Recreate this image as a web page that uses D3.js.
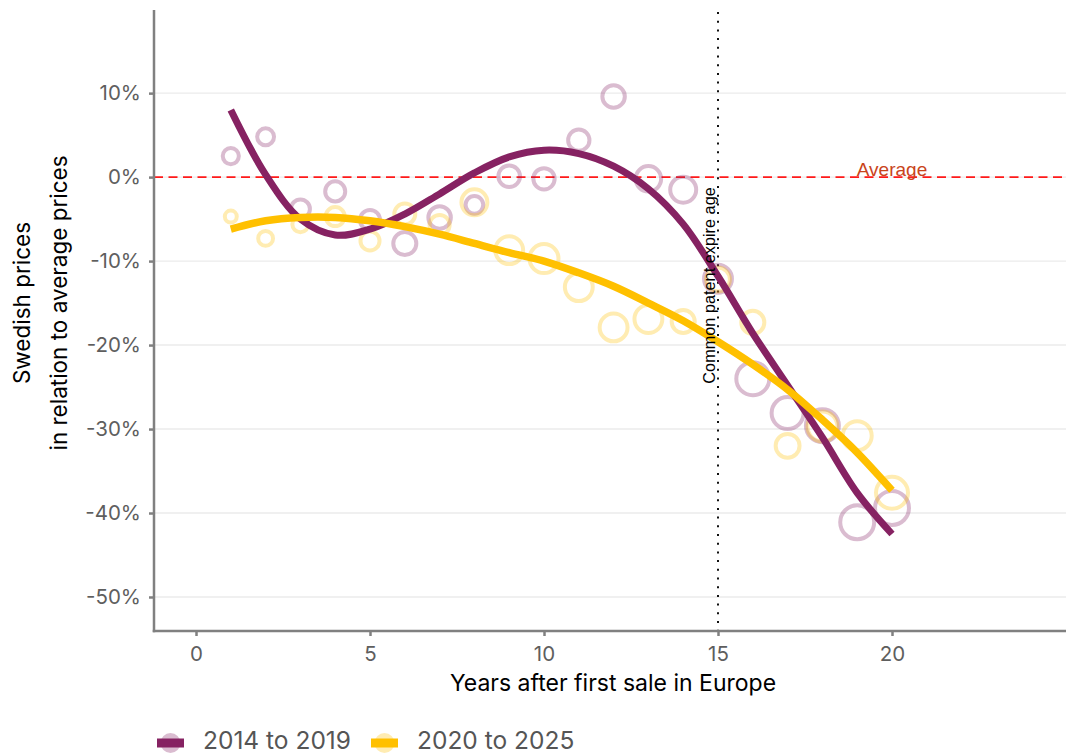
<!DOCTYPE html>
<html>
<head>
<meta charset="utf-8">
<script src="https://cdn.jsdelivr.net/npm/d3@7"></script>
<style>
  html, body { margin: 0; padding: 0; background: #fff; }
  svg { display: block; }
</style>
</head>
<body>
<svg id="chart" width="1066" height="755"></svg>
<script>
// Years after first sale in Europe
const years = [1, 2, 3, 4, 5, 6, 7, 8, 9, 10, 11, 12, 13, 14, 15, 16, 17, 18, 19, 20];

// Swedish price relative to the European average (%), per launch cohort
const obs2014 = [2.5, 4.8, -3.8, -1.7, -5.1, -7.9, -4.8, -3.3, 0.1, -0.2,
                 4.4, 9.6, -0.2, -1.5, -12.1, -24.0, -28.1, -29.6, -41.1, -39.4];
const obs2020 = [-4.7, -7.3, -5.6, -4.7, -7.6, -4.4, -5.7, -3.0, -8.7, -9.7,
                 -13.1, -17.9, -16.9, -17.2, -12.2, -17.3, -32.0, -29.7, -30.8, -37.6];

// Number of products behind each point (drives the ring size)
const n2014 = [20, 22, 28, 31, 31, 41, 39, 24, 36, 35, 35, 39, 50, 52, 60, 84, 79, 84, 89, 89];
const n2020 = [11, 17, 20, 28, 28, 34, 31, 52, 60, 65, 60, 60, 60, 41, 44, 41, 44, 69, 65, 79];

// Smoothed trend per cohort, sampled at each year
const trend2014 = [8.0, 0.3, -5.0, -6.9, -6.2, -4.4, -2.0, 0.5, 2.4, 3.2,
                   2.8, 1.3, -1.4, -5.6, -11.8, -18.6, -24.8, -31.0, -37.6, -42.5];
const trend2020 = [-6.2, -5.2, -4.8, -4.8, -5.2, -5.9, -6.8, -7.9, -9.0, -10.0,
                   -11.4, -13.0, -15.0, -17.1, -19.6, -22.3, -25.3, -28.9, -32.8, -37.3];

const seriesNames = ["2014 to 2019", "2020 to 2025"];
const seriesColors = ["#862262", "#FFC000"];

const yTicks = [-50, -40, -30, -20, -10, 0, 10];
const xTicks = [0, 5, 10, 15, 20];

const patentAge = 15;
const patentLabel = "Common patent expire age";
const averageLabel = "Average";

const xTitle = "Years after first sale in Europe";
const yTitle = ["Swedish prices", "in relation to average prices"];

// ---- layout ----
const svg = d3.select("#chart");
const panel = { left: 154, right: 1066, top: 10, bottom: 631 };

const x = d3.scaleLinear().domain([-1.207, 25]).range([panel.left, panel.right]);
const y = d3.scaleLinear().domain([-54.05, 19.9]).range([panel.bottom, panel.top]);
const r = d3.scaleSqrt().domain([0, 100]).range([0, 18]);

const textFont = "Inter, 'Noto Sans', sans-serif";
const annoFont = "'Liberation Sans', Arial, sans-serif";

// horizontal grid
svg.append("g")
  .selectAll("line")
  .data(yTicks)
  .join("line")
  .attr("x1", panel.left).attr("x2", panel.right)
  .attr("y1", d => y(d)).attr("y2", d => y(d))
  .attr("stroke", "#EBEBEB")
  .attr("stroke-width", 1.4);

// reference lines
svg.append("line")
  .attr("x1", panel.left).attr("x2", panel.right)
  .attr("y1", y(0)).attr("y2", y(0))
  .attr("stroke", "#FF1A1A")
  .attr("stroke-width", 1.7)
  .attr("stroke-dasharray", "9,5.5");

svg.append("line")
  .attr("x1", x(patentAge)).attr("x2", x(patentAge))
  .attr("y1", panel.top + 2).attr("y2", panel.bottom)
  .attr("stroke", "#111")
  .attr("stroke-width", 2)
  .attr("stroke-dasharray", "2,6.7");

// observation rings
const pts = [];
[obs2014, obs2020].forEach((vals, si) => {
  const ns = si === 0 ? n2014 : n2020;
  vals.forEach((v, i) => pts.push({ s: si, yr: years[i], v, n: ns[i] }));
});

svg.append("g")
  .selectAll("circle")
  .data(pts)
  .join("circle")
  .attr("cx", d => x(d.yr))
  .attr("cy", d => y(d.v))
  .attr("r", d => r(d.n))
  .attr("fill", "none")
  .attr("stroke", d => seriesColors[d.s])
  .attr("stroke-opacity", 0.3)
  .attr("stroke-width", 4);

// smoothed trends
const line = d3.line()
  .x(d => x(d[0]))
  .y(d => y(d[1]))
  .curve(d3.curveCatmullRom.alpha(0.5));

[trend2014, trend2020].forEach((vals, si) => {
  svg.append("path")
    .attr("d", line(years.map((yr, i) => [yr, vals[i]])))
    .attr("fill", "none")
    .attr("stroke", seriesColors[si])
    .attr("stroke-width", si === 0 ? 7 : 7.5)
    .attr("stroke-linecap", "butt");
});

// annotations
svg.append("text")
  .attr("transform", `translate(${x(patentAge) - 3},${y(-12.9)}) rotate(-90)`)
  .attr("text-anchor", "middle")
  .attr("font-family", annoFont)
  .attr("font-size", 16.3)
  .attr("fill", "#000")
  .text(patentLabel);

svg.append("text")
  .attr("x", x(20))
  .attr("y", y(0) - 1)
  .attr("text-anchor", "middle")
  .attr("font-family", annoFont)
  .attr("font-size", 19)
  .attr("fill", "#C9441B")
  .text(averageLabel);

// axes
const axisColor = "#808080";
svg.append("line")
  .attr("x1", panel.left).attr("x2", panel.left)
  .attr("y1", panel.top).attr("y2", panel.bottom + 1.25)
  .attr("stroke", axisColor).attr("stroke-width", 2.5);
svg.append("line")
  .attr("x1", panel.left - 1.25).attr("x2", panel.right)
  .attr("y1", panel.bottom).attr("y2", panel.bottom)
  .attr("stroke", axisColor).attr("stroke-width", 2.5);

const yAxis = svg.append("g")
  .attr("transform", `translate(${panel.left},0)`)
  .call(d3.axisLeft(y).tickValues(yTicks).tickSize(5).tickPadding(8)
    .tickFormat(d => `${d}%`));
const xAxis = svg.append("g")
  .attr("transform", `translate(0,${panel.bottom})`)
  .call(d3.axisBottom(x).tickValues(xTicks).tickSize(5).tickPadding(10)
    .tickFormat(d => `${d}`));

[yAxis, xAxis].forEach(g => {
  g.select(".domain").remove();
  g.selectAll(".tick line").attr("stroke", axisColor).attr("stroke-width", 2.5);
  g.selectAll(".tick text")
    .attr("fill", "#5E5E5E")
    .attr("font-family", textFont)
    .attr("font-size", 20.5);
});

// axis titles
svg.append("text")
  .attr("x", 613).attr("y", 691)
  .attr("text-anchor", "middle")
  .attr("font-family", textFont)
  .attr("font-size", 23)
  .attr("fill", "#000")
  .text(xTitle);

yTitle.forEach((t, i) => {
  svg.append("text")
    .attr("transform", `translate(${30 + i * 36.5},303) rotate(-90)`)
    .attr("text-anchor", "middle")
    .attr("font-family", textFont)
    .attr("font-size", 22.5)
    .attr("fill", "#000")
    .text(t);
});

// legend
const legend = svg.append("g").attr("transform", "translate(157,743)");
const legendX = [0, 214];
seriesNames.forEach((name, i) => {
  const g = legend.append("g").attr("transform", `translate(${legendX[i]},0)`);
  g.append("circle")
    .attr("cx", 13.5).attr("cy", 0).attr("r", 10)
    .attr("fill", seriesColors[i]).attr("fill-opacity", 0.3);
  g.append("rect")
    .attr("x", 0).attr("y", -4.5).attr("width", 27).attr("height", 9)
    .attr("fill", seriesColors[i]);
  g.append("text")
    .attr("x", 46).attr("y", 5.5)
    .attr("font-family", textFont)
    .attr("font-size", 24.5)
    .attr("fill", "#555")
    .text(name);
});
</script>
</body>
</html>
